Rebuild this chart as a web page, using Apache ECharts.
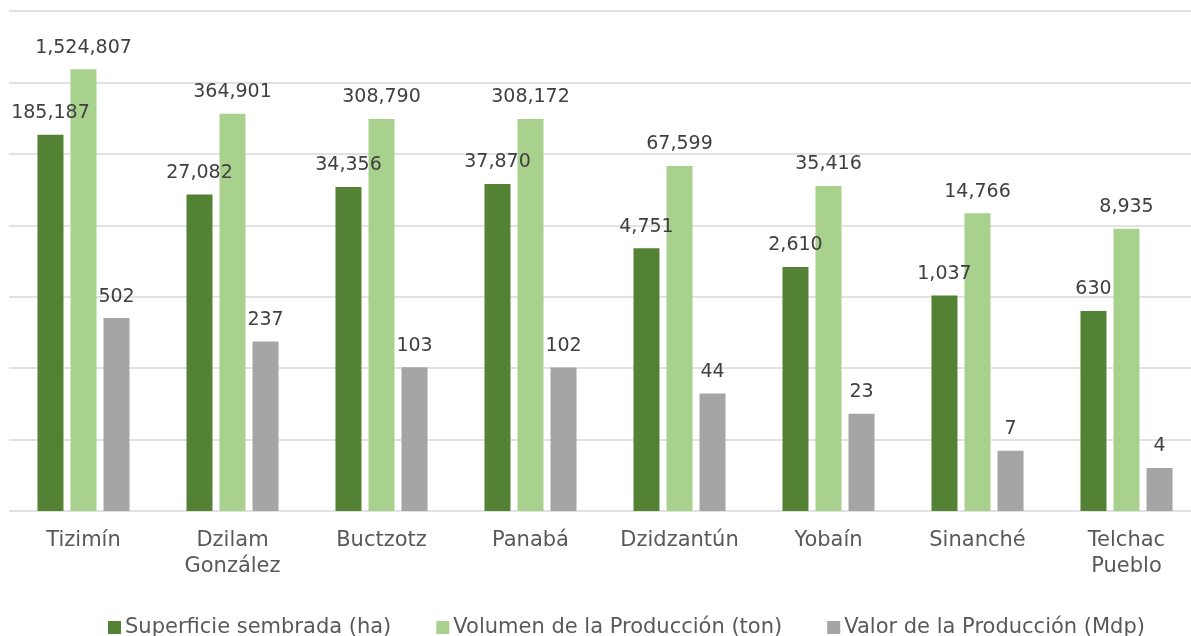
<!DOCTYPE html>
<html><head><meta charset="utf-8">
<script src="https://cdn.jsdelivr.net/npm/echarts@6/dist/echarts.min.js"></script>
<style>html,body{margin:0;padding:0;background:#fff;overflow:hidden}#c{width:1201px;height:636px}</style>
</head><body><div id="c"></div>
<script>
const categories = ['Tizimín','Dzilam\nGonzález','Buctzotz','Panabá','Dzidzantún','Yobaín','Sinanché','Telchac\nPueblo'];
const superficie = [185187, 27082, 34356, 37870, 4751, 2610, 1037, 630];
const volumen = [1524807, 364901, 308790, 308172, 67599, 35416, 14766, 8935];
const valor = [502, 237, 103, 102, 44, 23, 7, 4];
const seriesNames = ['Superficie sembrada (ha)','Volumen de la Producción (ton)','Valor de la Producción (Mdp)'];
const colors = ['#548235','#a9d18e','#a5a5a5'];
const FONT = 'DejaVu Sans';
const chart = echarts.init(document.getElementById('c'), null, {renderer:'canvas'});
const mk = (name, data, color) => ({
  name, type:'bar', data, barWidth:26, barGap:'27%',
  itemStyle:{color},
  label:{show:true, position:'top', distance:12, color:'#404040', fontSize:19, fontFamily:FONT,
    formatter:p => p.value.toLocaleString('en-US')}
});
chart.setOption({
  animation:false,
  textStyle:{fontFamily:FONT},
  grid:{left:9, right:0, top:11, height:500, containLabel:false},
  legend:{bottom:-7, left:103, itemWidth:13, itemHeight:13, itemGap:45, icon:'rect',
    textStyle:{color:'#595959', fontSize:21, fontFamily:FONT, padding:[0,0,0,-1]}, data:seriesNames},
  xAxis:{type:'category', data:categories, axisLine:{show:false}, axisTick:{show:false},
    axisLabel:{color:'#595959', fontSize:21, fontFamily:FONT, margin:17, lineHeight:26, interval:0}},
  yAxis:{type:'log', logBase:10, min:1, max:10000000, interval:1,
    axisLabel:{show:false}, axisLine:{show:false}, axisTick:{show:false},
    splitLine:{show:true, lineStyle:{color:'#d9d9d9', width:1.5}}},
  series:[mk(seriesNames[0], superficie, colors[0]), mk(seriesNames[1], volumen, colors[1]), mk(seriesNames[2], valor, colors[2])]
});
</script></body></html>
